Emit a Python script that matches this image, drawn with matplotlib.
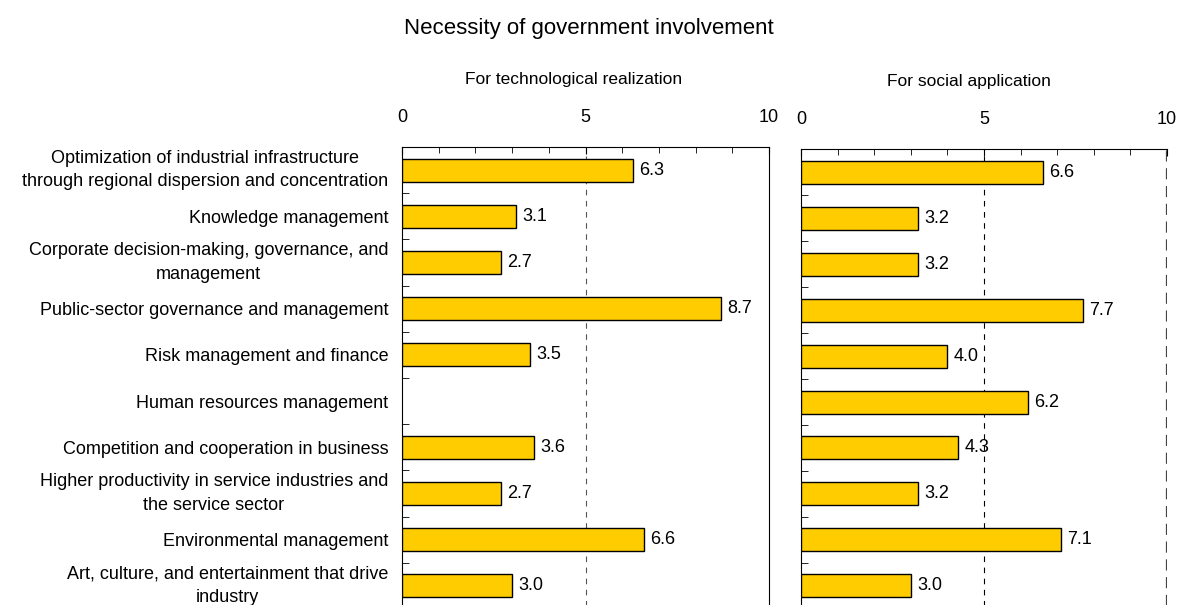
import numpy as np
import matplotlib
matplotlib.use("Agg")
from matplotlib import pyplot as plt
from matplotlib.ticker import MultipleLocator, FixedLocator

plt.rcParams['font.family'] = ['Liberation Sans', 'DejaVu Sans']

categories = [
    "Optimization of industrial infrastructure\nthrough regional dispersion and concentration",
    "Knowledge management",
    "Corporate decision-making, governance, and\nmanagement",
    "Public-sector governance and management",
    "Risk management and finance",
    "Human resources management",
    "Competition and cooperation in business",
    "Higher productivity in service industries and\nthe service sector",
    "Environmental management",
    "Art, culture, and entertainment that drive\nindustry",
]
tech_values = [6.3, 3.1, 2.7, 8.7, 3.5, np.nan, 3.6, 2.7, 6.6, 3.0]
social_values = [6.6, 3.2, 3.2, 7.7, 4.0, 6.2, 4.3, 3.2, 7.1, 3.0]
panel_titles = ["For technological realization", "For social application"]

fig = plt.figure(figsize=(11.78, 6.05), dpi=100)
ax1 = fig.add_axes([0.3413, -0.0066, 0.3115, 0.7636])
ax2 = fig.add_axes([0.6800, -0.0066, 0.3107, 0.7603])

fig.text(0.5, 0.953, "Necessity of government involvement", ha="center", va="center", fontsize=16)

y = np.arange(len(categories))
title_x = [0.467, 0.459]

for k, (ax, vals) in enumerate(zip([ax1, ax2], [tech_values, social_values])):
    ax.barh(y, vals, height=0.5, color="#FFCC00", edgecolor="black", linewidth=1.0, zorder=3)
    for yi, v in zip(y, vals):
        if not np.isnan(v):
            ax.text(v + 0.17, yi, "%.1f" % v, va="center", ha="left", fontsize=13, zorder=4)
    ax.set_xlim(0, 10)
    ax.set_ylim(len(categories) - 0.5, -0.5)
    ax.axvline(5, color="#555555" if k == 0 else "black", linestyle=(0, (5, 5)), linewidth=0.8, zorder=1)
    ax.xaxis.tick_top()
    ax.xaxis.set_major_locator(FixedLocator([0, 5, 10]))
    ax.xaxis.set_minor_locator(MultipleLocator(1))
    ax.tick_params(axis="x", which="both", direction="in", top=True, bottom=False, labelsize=13, pad=15)
    ax.tick_params(axis="x", which="major", length=5)
    ax.tick_params(axis="x", which="minor", length=4)
    ax.yaxis.set_major_locator(FixedLocator(y))
    ax.yaxis.set_minor_locator(FixedLocator(y[:-1] + 0.5))
    ax.tick_params(axis="y", which="major", length=0)
    ax.tick_params(axis="y", which="minor", direction="in", length=5, left=True)
    ax.spines["bottom"].set_visible(False)
    ax.text(title_x[k], 1.147, panel_titles[k], transform=ax.transAxes,
            ha="center", va="center", fontsize=12.5)

ax1.set_yticklabels(categories, fontsize=13, multialignment="center", linespacing=1.48)
for lab in ax1.get_yticklabels():
    if "\n" in lab.get_text():
        lab.set_va("center")
ax1.tick_params(axis="y", which="major", pad=10)
ax2.set_yticklabels([])
ax2.spines["right"].set_visible(False)
ax2.axvline(10, color="#444444", linestyle=(0, (5, 3)), linewidth=1.6, zorder=1)

fig.savefig("out.png", dpi=100)
